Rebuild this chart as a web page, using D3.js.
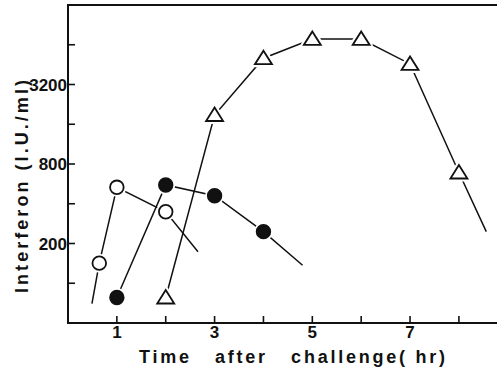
<!DOCTYPE html>
<html>
<head>
<meta charset="utf-8">
<script src="https://cdn.jsdelivr.net/npm/d3@7"></script>
<style>
  body { margin: 0; background: white; }
  text { font-family: "Liberation Sans", Arial, sans-serif; fill: #111; font-weight: bold; white-space: pre; }
</style>
</head>
<body>
<svg id="chart" width="497" height="367"></svg>
<script>
// values (hours, I.U./ml)
var openT = [0.64, 1, 2];
var openV = [142, 533, 348];
var openLead = [0.49, 70];
var openTail = [2.66, 173];

var filledT = [1, 2, 3, 4];
var filledV = [78, 555, 460, 246];
var filledTail = [4.8, 137];

var triT = [2, 3, 4, 5, 6, 7, 8];
var triV = [78, 1880, 5060, 7080, 7080, 4580, 690];
var triTail = [8.56, 246];

var xTicks = [1, 2, 3, 4, 5, 6, 7, 8];
var xLabels = [1, 3, 5, 7];
var yTicks = [100, 200, 400, 800, 1600, 3200, 6400];
var yLabels = [200, 800, 3200];

var svg = d3.select("#chart");
var padL = 68, padR = 498, padT = 5, padB = 323;

var x = d3.scaleLinear().domain([0, 8.8]).range([padL, padR]);
var y = d3.scaleLog().base(2).domain([50, 12800]).range([padB, padT]);

// frame: left axis, bottom axis, top border
svg.append("path")
    .attr("d", "M" + padR + "," + padT + "H" + padL + "V" + padB + "H" + padR)
    .style("fill", "none")
    .style("stroke", "#111")
    .style("stroke-width", 2);

// ticks point inward
svg.selectAll(".xt").data(xTicks).enter().append("line")
    .attr("x1", d => x(d)).attr("x2", d => x(d))
    .attr("y1", padB).attr("y2", padB - 7)
    .style("stroke", "#111").style("stroke-width", 1.6);
svg.selectAll(".yt").data(yTicks).enter().append("line")
    .attr("x1", padL).attr("x2", padL + 7)
    .attr("y1", d => y(d)).attr("y2", d => y(d))
    .style("stroke", "#111").style("stroke-width", 1.6);

svg.selectAll(".xl").data(xLabels).enter().append("text")
    .attr("x", d => x(d)).attr("y", 338)
    .attr("text-anchor", "middle")
    .style("font-size", "17px")
    .text(d => d);
svg.selectAll(".yl").data(yLabels).enter().append("text")
    .attr("x", 67).attr("y", d => y(d) + 6)
    .attr("text-anchor", "end")
    .style("font-size", "17px")
    .text(d => d);

svg.append("text")
    .attr("x", 139).attr("y", 363)
    .attr("textLength", 306).attr("lengthAdjust", "spacing")
    .style("font-size", "18px")
    .text("Time   after   challenge( hr)");

svg.append("text")
    .attr("transform", "translate(28,293) rotate(-90)")
    .attr("textLength", 213).attr("lengthAdjust", "spacing")
    .style("font-size", "18px")
    .text("Interferon (I.U./ml)");

var lineGen = d3.line().x(d => x(d[0])).y(d => y(d[1]));

function zip(ts, vs) { return ts.map((t, i) => [t, vs[i]]); }

var openPts = zip(openT, openV);
var filledPts = zip(filledT, filledV);
var triPts = zip(triT, triV);

[[openLead].concat(openPts, [openTail]),
 filledPts.concat([filledTail]),
 triPts.concat([triTail])].forEach(function(pts) {
    svg.append("path")
        .attr("d", lineGen(pts))
        .style("fill", "none")
        .style("stroke", "#111")
        .style("stroke-width", 1.5);
});

var tri = "M0,-7.5L8.5,6L-8.5,6Z";

// white halos leave the small gap where lines meet markers
function circles(pts, fill) {
    svg.append("g").selectAll("circle").data(pts).enter().append("circle")
        .attr("cx", d => x(d[0])).attr("cy", d => y(d[1])).attr("r", 7)
        .style("fill", "white").style("stroke", "white").style("stroke-width", 5);
    svg.append("g").selectAll("circle").data(pts).enter().append("circle")
        .attr("cx", d => x(d[0])).attr("cy", d => y(d[1])).attr("r", 6.8)
        .style("fill", fill).style("stroke", "#111").style("stroke-width", 1.8);
}
circles(openPts, "white");
circles(filledPts, "#111");

svg.append("g").selectAll("path").data(triPts).enter().append("path")
    .attr("transform", d => "translate(" + x(d[0]) + "," + y(d[1]) + ")")
    .attr("d", tri)
    .style("fill", "white").style("stroke", "white").style("stroke-width", 6)
    .style("stroke-linejoin", "round");
svg.append("g").selectAll("path").data(triPts).enter().append("path")
    .attr("transform", d => "translate(" + x(d[0]) + "," + y(d[1]) + ")")
    .attr("d", tri)
    .style("fill", "white").style("stroke", "#111").style("stroke-width", 1.8);
</script>
</body>
</html>
